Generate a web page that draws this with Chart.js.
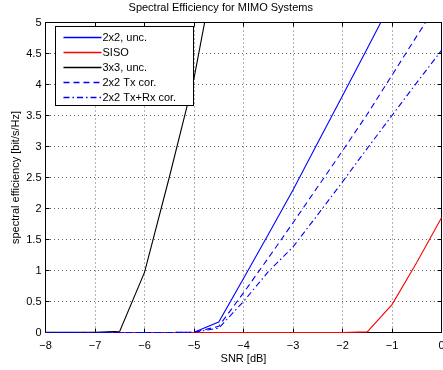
<!DOCTYPE html>
<html><head><meta charset="utf-8">
<script src="https://cdn.jsdelivr.net/npm/chart.js@4/dist/chart.umd.min.js"></script>
<style>html,body{margin:0;padding:0;background:#fff;overflow:hidden}</style>
</head><body>
<canvas id="c" width="443" height="370"></canvas>
<script>
// ---- data ----
const snrDb = [-8,-7.5,-7,-6.5,-6,-5.5,-5,-4.5,-4,-3.5,-3,-2.5,-2,-1.5,-1,-0.5,0];
const eff2x2Unc   = [0,0,0,0,0,0,0.005,0.17,0.87,1.58,2.3,3.06,3.82,4.58,5.35,null,null];
const effSiso     = [0,0,0,0,0,0,0,0,0,0,0,0,0,0.01,0.45,1.13,1.85];
const eff3x3Unc   = [0.005,0.005,0.005,0.02,0.97,2.5,4.1,6.2,null,null,null,null,null,null,null,null,null];
const eff2x2Tx    = [0,0,0,0,0,0,0.005,0.1,0.64,1.2,1.77,2.35,2.93,3.52,4.15,4.78,5.4];
const eff2x2TxRx  = [0,0,0,0,0,0,0.005,0.07,0.5,0.98,1.38,1.9,2.43,2.97,3.5,4.03,4.55];
const seriesNames = ['2x2, unc.','SISO','3x3, unc.','2x2 Tx cor.','2x2 Tx+Rx cor.'];
const xTickValues = [-8,-7,-6,-5,-4,-3,-2,-1,0];
const xTickLabels = ['\u22128','\u22127','\u22126','\u22125','\u22124','\u22123','\u22122','\u22121','0'];
const yTickLabels = ['0','0.5','1','1.5','2','2.5','3','3.5','4','4.5','5'];

const FONT = 'Liberation Sans, Arial, Helvetica, sans-serif';
Chart.defaults.font.family = FONT;
Chart.defaults.font.size = 11;
Chart.defaults.color = '#000';

const toPts = arr => snrDb.map((x,i)=>({x:x,y:arr[i]}));
const styles = [
  {color:'rgb(0,0,255)', dash:[]},
  {color:'rgb(255,0,0)', dash:[]},
  {color:'rgb(0,0,0)', dash:[]},
  {color:'rgb(0,0,255)', dash:[6,4]},
  {color:'rgb(0,0,255)', dash:[6,3,1.5,3]}
];
const seriesData = [eff2x2Unc, effSiso, eff3x3Unc, eff2x2Tx, eff2x2TxRx];
const datasets = seriesData.map((arr,i)=>({
  label: seriesNames[i],
  data: toPts(arr),
  borderColor: styles[i].color,
  borderDash: styles[i].dash,
  borderWidth: 1.1,
  pointRadius: 0,
  fill: false,
  tension: 0,
  spanGaps: false,
  clip: {left: 1, right: 1, top: 0, bottom: 1},
  order: 5 - i
}));

const framePlugin = {
  id: 'frame',
  beforeDatasetsDraw(chart) {
    const ctx = chart.ctx, a = chart.chartArea;
    const xs = chart.scales.x, ys = chart.scales.y;
    ctx.save();
    ctx.strokeStyle = '#000';
    ctx.lineWidth = 1;
    ctx.setLineDash([]);
    const L = a.left, R = a.right, T = a.top, B = a.bottom;
    ctx.strokeRect(L, T, R-L, B-T);
    const tl = 4;
    ctx.beginPath();
    xTickValues.forEach(v=>{
      const px = Math.round(xs.getPixelForValue(v)-0.5)+0.5;
      ctx.moveTo(px,B); ctx.lineTo(px,B-tl);
      ctx.moveTo(px,T); ctx.lineTo(px,T+tl);
    });
    yTickLabels.forEach((s)=>{
      const py = Math.round(ys.getPixelForValue(parseFloat(s))-0.5)+0.5;
      ctx.moveTo(L,py); ctx.lineTo(L+tl,py);
      ctx.moveTo(R,py); ctx.lineTo(R-tl,py);
    });
    ctx.stroke();
    ctx.restore();
  },
  afterDraw(chart) {
    const ctx = chart.ctx, a = chart.chartArea;
    ctx.save();
    ctx.lineWidth = 1;
    // legend box inside axes
    const bx = Math.round(a.left + 9)+0.5, by = Math.round(a.top + 3.5)+0.5;
    const bw = 138, bh = 79;
    ctx.fillStyle = '#fff';
    ctx.strokeStyle = '#000';
    ctx.setLineDash([]);
    ctx.fillRect(bx, by, bw, bh);
    ctx.strokeRect(bx, by, bw, bh);
    ctx.font = '11px ' + FONT;
    ctx.textBaseline = 'middle';
    ctx.textAlign = 'left';
    seriesNames.forEach((name,i)=>{
      const yy = Math.round(by + 10.5 + i*15) + 0.5;
      ctx.strokeStyle = styles[i].color;
      ctx.lineWidth = 1.3;
      ctx.setLineDash(styles[i].dash);
      ctx.beginPath();
      ctx.moveTo(bx+8, yy); ctx.lineTo(bx+46, yy);
      ctx.stroke();
      ctx.setLineDash([]);
      ctx.fillStyle = '#000';
      ctx.fillText(name, bx+47, yy);
    });
    ctx.restore();
  }
};

new Chart(document.getElementById('c'), {
  type: 'line',
  data: { datasets },
  plugins: [framePlugin],
  options: {
    responsive: false,
    animation: false,
    events: [],
    layout: { autoPadding: false, padding: {left:0, right:1.5, top:0, bottom:0} },
    plugins: {
      legend: { display: false },
      tooltip: { enabled: false },
      title: {
        display: true,
        text: 'Spectral Efficiency for MIMO Systems',
        font: { size: 11, weight: 'normal', family: FONT },
        color: '#000',
        padding: { top: 1, bottom: 8.3 }
      }
    },
    scales: {
      x: {
        type: 'linear',
        min: -8, max: 0,
        afterFit(s){ s.height = 37.5; s.paddingLeft = 0; s.paddingRight = 0; },
        afterBuildTicks(s){ s.ticks = xTickValues.map(v=>({value:v})); },
        ticks: {
          padding: 6.5,
          callback: (v)=>{ const k = xTickValues.indexOf(v); return k>=0 ? xTickLabels[k] : ''; },
          maxRotation: 0, autoSkip: false
        },
        grid: { color: 'rgba(0,0,0,0.6)', lineWidth: 1, drawTicks: false },
        border: { display: false, dash: [1,3] },
        title: { display: true, text: 'SNR [dB]', font: {size: 11, family: FONT}, color: '#000', padding: {top:0, bottom:4.9} }
      },
      y: {
        type: 'linear',
        min: 0, max: 5,
        afterFit(s){ s.width = 45.5; s.paddingTop = 0; s.paddingBottom = 0; },
        afterBuildTicks(s){ s.ticks = yTickLabels.map(t=>({value:parseFloat(t)})); },
        ticks: {
          padding: 4,
          callback: (v)=>{ const k = yTickLabels.map(parseFloat).indexOf(v); return k>=0 ? yTickLabels[k] : ''; },
          autoSkip: false
        },
        grid: { color: 'rgba(0,0,0,0.6)', lineWidth: 1, drawTicks: false },
        border: { display: false, dash: [1,3] },
        title: { display: true, text: 'spectral efficiency [bit/s/Hz]', font: {size: 11, family: FONT}, color: '#000', padding: {top:9.6, bottom:0} }
      }
    }
  }
});
</script>
</body></html>
